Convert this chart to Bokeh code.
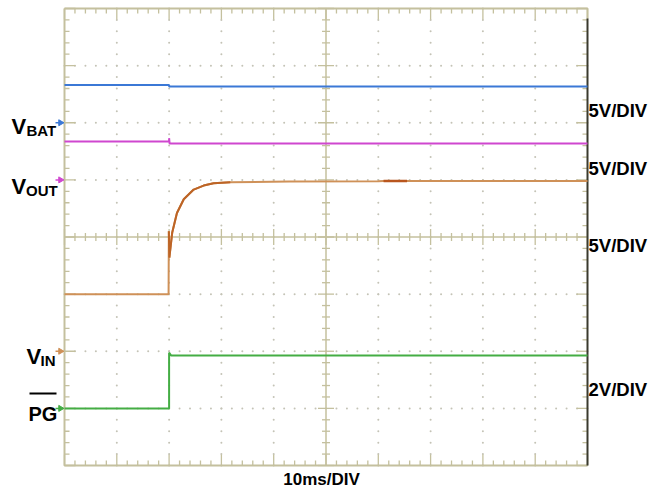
import numpy as np
from bokeh.plotting import figure
from bokeh.models import Range1d
from bokeh.core.properties import value
from bokeh.embed import file_html
from bokeh.resources import INLINE

# ---- captured channel data (time in ms, amplitude in volts) ----
vbat_t = [0, 20.0, 20.0, 100]
vbat_v = [3.30, 3.30, 3.18, 3.18]

vout_t = [0, 20.0, 20.0, 20.1, 100]
vout_v = [3.35, 3.35, 3.65, 3.18, 3.18]

vin_t = [0, 19.9, 19.95, 20.05, 20.6, 21.5, 22.8, 24.7, 26.6, 28.5, 31.7, 43.0, 60.0, 61.0, 65.5, 100]
vin_v = [5.0, 5.0, 10.5, 8.2, 10.4, 12.1, 13.3, 14.15, 14.5, 14.7, 14.8, 14.85, 14.88, 14.9, 14.9, 14.9]

pg_t = [0, 20.0, 20.0, 20.4, 100]
pg_v = [0.0, 0.0, 1.95, 1.85, 1.85]

# channel ground marker (divisions from screen centre) and volts/div
channels = {
    "VBAT": dict(offset=2.0, scale=5.0, color="#3b78d6"),
    "VOUT": dict(offset=1.0, scale=5.0, color="#cf47cf"),
    "VIN": dict(offset=-2.0, scale=5.0, color="#cf9158"),
    "PG": dict(offset=-3.0, scale=2.0, color="#44ad44"),
}
scale_labels = ["5V/DIV", "5V/DIV", "5V/DIV", "2V/DIV"]
time_label = "10ms/DIV"

# ---- screen geometry ----
W, H = 651, 492
LEFT, RIGHT, TOP, BOTTOM = 64.0, 587.0, 8.0, 465.0
DIVX = (RIGHT - LEFT) / 10.0
DIVY = (BOTTOM - TOP) / 8.0
CY = (TOP + BOTTOM) / 2.0


def X(px):
    return (px - LEFT) / DIVX * 10.0


def Y(py):
    return (CY - py) / DIVY


def to_div(v, ch):
    c = channels[ch]
    return [c["offset"] + vv / c["scale"] for vv in v]


p = figure(width=W, height=H, x_range=Range1d(X(0), X(W)), y_range=Range1d(Y(H), Y(0)),
           output_backend="svg", toolbar_location=None, min_border=0,
           x_axis_location=None, y_axis_location=None)
p.xgrid.visible = False
p.ygrid.visible = False
p.outline_line_color = None
p.background_fill_color = "white"
p.border_fill_color = "white"

frame_col = "#c4c09e"
dot_col = "#c4c3b6"

# dotted graticule
minor_t = np.arange(0, 100.01, 2.0)
minor_d = np.arange(-4, 4.01, 0.2)
dx, dy = [], []
for gx in [10, 20, 30, 40, 60, 70, 80, 90]:
    for d in minor_d:
        dx.append(gx); dy.append(d)
for gy in [-3, -2, -1, 1, 2, 3]:
    for t in minor_t:
        dx.append(t); dy.append(gy)
p.scatter(dx, dy, size=2.0, color=dot_col, line_color=None)

# centre axes with ticks
p.segment([0, 50], [0, -4], [100, 50], [0, 4], line_color=frame_col, line_width=1.5)
tk = 4.0 / DIVY
tkx = 4.0 / DIVX * 10
mj = lambda a: abs(a - round(a)) < 1e-6
p.segment(minor_t, [-(2 * tk if mj(t / 10) else tk) for t in minor_t],
          minor_t, [(2 * tk if mj(t / 10) else tk) for t in minor_t],
          line_color=frame_col, line_width=1.3)
p.segment([50 - (2 * tkx if mj(d) else tkx) for d in minor_d], minor_d,
          [50 + (2 * tkx if mj(d) else tkx) for d in minor_d], minor_d,
          line_color=frame_col, line_width=1.3)

# outer frame ticks
tl = 5.0 / DIVY
tlx = 5.0 / DIVX * 10
p.segment(minor_t, [4] * len(minor_t), minor_t,
          [4 - (2.2 * tl if mj(t / 10) else tl) for t in minor_t], line_color=frame_col, line_width=1.3)
p.segment(minor_t, [-4] * len(minor_t), minor_t,
          [-4 + (2.2 * tl if mj(t / 10) else tl) for t in minor_t], line_color=frame_col, line_width=1.3)
p.segment([0] * len(minor_d), minor_d, [(2.2 * tlx if mj(d) else tlx) for d in minor_d], minor_d,
          line_color=frame_col, line_width=1.3)
p.segment([100] * len(minor_d), minor_d, [100 - (2.2 * tlx if mj(d) else tlx) for d in minor_d], minor_d,
          line_color=frame_col, line_width=1.3)

# frame border
p.line([0, 0, 100], [4, -4, -4], line_color=frame_col, line_width=2)
p.line([0, 100, 100], [4, 4, Y(18)], line_color=frame_col, line_width=2)
p.line([100, 100], [Y(18), -4], line_color="#3a3a2e", line_width=2)

# traces
p.line(vbat_t, to_div(vbat_v, "VBAT"), line_color=channels["VBAT"]["color"], line_width=2)
p.line(vout_t, to_div(vout_v, "VOUT"), line_color=channels["VOUT"]["color"], line_width=2)
vin_d = to_div(vin_v, "VIN")
p.line(vin_t, vin_d, line_color=channels["VIN"]["color"], line_width=2)
p.line(vin_t[2:11], vin_d[2:11], line_color="#bd6426", line_width=2)
p.line(vin_t[13:15], vin_d[13:15], line_color="#b9561e", line_width=2.4)
p.line(pg_t, to_div(pg_v, "PG"), line_color=channels["PG"]["color"], line_width=2)

# ground markers on the left edge
gx0, gx1 = X(55), X(61)
for ch, c in channels.items():
    p.segment([gx0], [c["offset"]], [gx1], [c["offset"]], line_color=c["color"], line_width=1.5)
    p.scatter([X(60)], [c["offset"]], marker="triangle", angle=-np.pi / 2, size=6,
              color=c["color"], line_color=c["color"])

font = value("Liberation Sans")
big = dict(text_font=font, text_font_style="bold", text_font_size="22px",
           text_baseline="alphabetic", text_align="left", text_color="black")
sub = dict(text_font=font, text_font_style="bold", text_font_size="15px",
           text_baseline="alphabetic", text_align="left", text_color="black")
p.text([X(11), X(11), X(26)], [Y(126), Y(186), Y(356)], text=["V", "V", "V"], **big)
p.text([X(26), X(25.5), X(40)], [Y(130), Y(190), Y(360)], text=["BAT", "OUT", "IN"], **sub)
p.text([X(28)], [Y(413)], text=["PG"], text_font=font, text_font_style="bold",
       text_font_size="20px", text_baseline="alphabetic", text_align="left", text_color="black")
p.segment([X(29)], [Y(393)], [X(56)], [Y(393)], line_color="black", line_width=2)

p.text([X(588)] * 4, [Y(110), Y(168), Y(245), Y(389)], text=scale_labels,
       text_font=font, text_font_style="bold", text_font_size="18.5px",
       text_baseline="alphabetic", text_align="left", text_color="black")
p.text([X(321)], [Y(479)], text=[time_label], text_font=font, text_font_style="bold",
       text_font_size="17px", text_baseline="middle", text_align="center", text_color="black")

open("out.html", "w").write(file_html(p, INLINE))
